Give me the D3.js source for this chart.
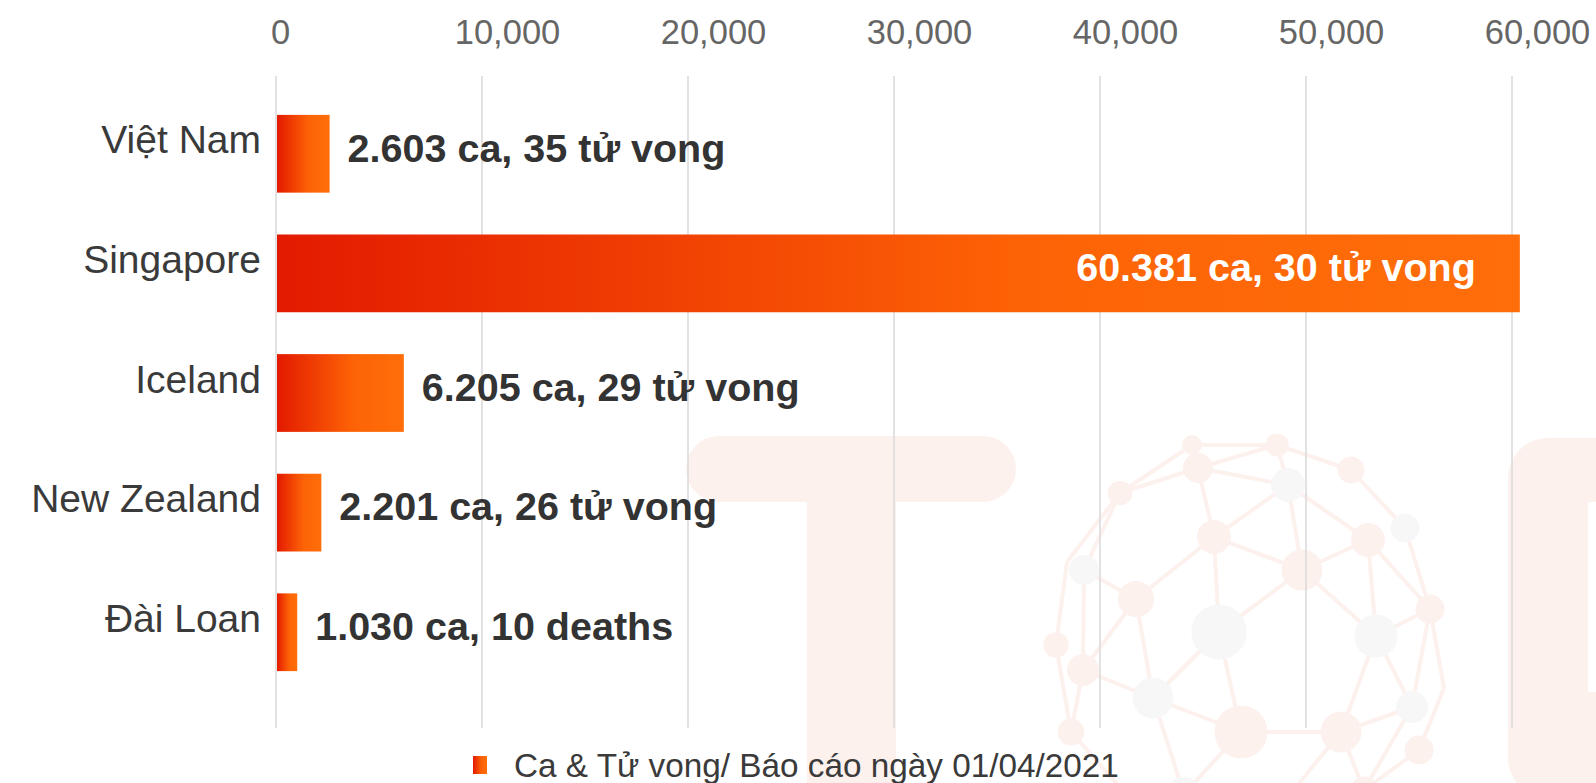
<!DOCTYPE html>
<html>
<head>
<meta charset="utf-8">
<script src="https://cdn.jsdelivr.net/npm/d3@7"></script>
<style>
  body { margin: 0; background: #fff; }
  svg { display: block; font-family: "Liberation Sans", Arial, sans-serif; }
</style>
</head>
<body>
<script>
var width = 1596;
var height = 783;

// du lieu
var countries = ["Việt Nam", "Singapore", "Iceland", "New Zealand", "Đài Loan"];
var cases = [2603, 60381, 6205, 2201, 1030];
var labels = ["2.603 ca, 35 tử vong", "60.381 ca, 30 tử vong", "6.205 ca, 29 tử vong", "2.201 ca, 26 tử vong", "1.030 ca, 10 deaths"];
var ticks = [0, 10000, 20000, 30000, 40000, 50000, 60000];
var legendText = "Ca & Tử vong/ Báo cáo ngày 01/04/2021";

var svg = d3.select("body").append("svg")
  .attr("width", width)
  .attr("height", height);

var defs = svg.append("defs");
var grad = defs.append("linearGradient").attr("id", "barGrad");
grad.append("stop").attr("offset", "0%").attr("stop-color", "#e31a00");
grad.append("stop").attr("offset", "60%").attr("stop-color", "#fd6306");
grad.append("stop").attr("offset", "100%").attr("stop-color", "#ff6e0a");

// watermark (logo mo phia sau)
var wm = svg.append("g").attr("class", "watermark");
var wmPink = "#fdf1ee";
var wmGrey = "#f7f7f7";
wm.append("rect").attr("x", 686).attr("y", 436).attr("width", 330).attr("height", 66).attr("rx", 33).attr("fill", wmPink);
wm.append("rect").attr("x", 807).attr("y", 480).attr("width", 89).attr("height", 310).attr("fill", wmPink);
wm.append("rect").attr("x", 1508).attr("y", 438).attr("width", 140).attr("height", 360).attr("rx", 40).attr("fill", wmPink);
wm.append("rect").attr("x", 1588).attr("y", 502).attr("width", 20).attr("height", 190).attr("fill", "#fff");

var nodes = [
  [1192, 445, 9, 0], [1277, 445, 10.6, 0], [1198, 468, 14, 0], [1120, 493, 11.3, 0],
  [1288, 485, 16, 1], [1351, 470, 12.4, 0], [1405, 528, 13.5, 1], [1214, 537, 16, 0],
  [1302, 570, 19.5, 0], [1368, 540, 16, 0], [1084, 570, 14, 1], [1136, 599, 17, 0],
  [1219, 632, 26.6, 1], [1376, 636, 20.6, 1], [1430, 609, 13.5, 0], [1056, 645, 11.7, 0],
  [1083, 670, 15, 0], [1153, 698, 19.5, 1], [1241, 732, 25.5, 0], [1341, 732, 19.5, 0],
  [1412, 707, 15, 1], [1071, 732, 12.4, 0], [1419, 750, 13.5, 0], [1184, 794, 16, 1],
  [1283, 803, 14, 0], [1364, 790, 12.4, 0], [1134, 803, 10.6, 0],
  [1067, 562, 0, 0], [1444, 688, 0, 0]
];
var edges = [
  [0, 1], [0, 3], [0, 2], [2, 1], [1, 4], [2, 4], [1, 5], [2, 7], [3, 2], [3, 10],
  [4, 7], [4, 8], [4, 9], [5, 6], [6, 14], [7, 8], [7, 11], [7, 12], [8, 9], [8, 12],
  [8, 13], [9, 13], [9, 14], [10, 11], [10, 16], [11, 16], [11, 17], [12, 17], [12, 18],
  [13, 14], [13, 19], [13, 20], [14, 20], [14, 28], [28, 22], [15, 27], [27, 3],
  [15, 21], [16, 17], [16, 21], [17, 18], [17, 23], [18, 19], [18, 23], [19, 20],
  [19, 24], [19, 25], [20, 25], [22, 25], [21, 26], [23, 24], [23, 26]
];
wm.selectAll("line.wm").data(edges).enter().append("line")
  .attr("x1", function(e){ return nodes[e[0]][0]; })
  .attr("y1", function(e){ return nodes[e[0]][1]; })
  .attr("x2", function(e){ return nodes[e[1]][0]; })
  .attr("y2", function(e){ return nodes[e[1]][1]; })
  .attr("stroke", wmPink)
  .attr("stroke-width", 4);
wm.selectAll("circle").data(nodes.filter(function(n){ return n[2] > 0; })).enter().append("circle")
  .attr("cx", function(n){ return n[0]; })
  .attr("cy", function(n){ return n[1]; })
  .attr("r", function(n){ return n[2] + 1; })
  .attr("fill", function(n){ return n[3] ? wmGrey : wmPink; });

// scales
var x = d3.scaleLinear()
  .domain([0, 60000])
  .range([276, 1512]);

var y = d3.scaleBand()
  .domain(countries)
  .range([79, 707])
  .paddingInner(0.35)
  .paddingOuter(0.3);

// gridlines
svg.append("g").selectAll("line.grid").data(ticks).enter().append("line")
  .attr("x1", function(d){ return x(d); })
  .attr("x2", function(d){ return x(d); })
  .attr("y1", 76)
  .attr("y2", 728)
  .attr("stroke", "#d9d9d9")
  .attr("stroke-width", 1.5);

// truc tren
var axis = svg.append("g")
  .attr("transform", "translate(0,44)")
  .call(d3.axisTop(x).tickValues(ticks).tickFormat(d3.format(",")).tickSize(0).tickPadding(0));
axis.select(".domain").remove();
axis.selectAll("text")
  .attr("fill", "#666")
  .attr("dx", function(d){ return d === 0 ? 4 : 25; })
  .style("font-size", "34.5px")
  .style("font-family", "\"Liberation Sans\", Arial, sans-serif");

// nhan quoc gia
svg.append("g").selectAll("text").data(countries).enter().append("text")
  .attr("x", 261)
  .attr("y", function(d){ return y(d) + y.bandwidth() / 2 - 14; })
  .attr("dy", "0.35em")
  .attr("text-anchor", "end")
  .attr("fill", "#3a3a3a")
  .style("font-size", "39px")
  .text(function(d){ return d; });

// cot
svg.append("g").selectAll("rect").data(countries).enter().append("rect")
  .attr("x", x(0) + 1)
  .attr("y", function(d){ return y(d); })
  .attr("width", function(d, i){ return x(cases[i]) - x(0) - 1; })
  .attr("height", y.bandwidth())
  .attr("fill", "url(#barGrad)");

// nhan gia tri
svg.append("g").selectAll("text").data(countries).enter().append("text")
  .attr("x", function(d, i){ return cases[i] > 30000 ? x(cases[i]) - 44 : x(cases[i]) + 18; })
  .attr("y", function(d, i){ return y(d) + y.bandwidth() / 2 - 6; })
  .attr("dy", "0.35em")
  .attr("text-anchor", function(d, i){ return cases[i] > 30000 ? "end" : "start"; })
  .attr("fill", function(d, i){ return cases[i] > 30000 ? "#fff" : "#333"; })
  .style("font-size", "39.5px")
  .style("font-weight", "bold")
  .text(function(d, i){ return labels[i]; });

// chu thich
var legend = svg.append("g").attr("transform", "translate(473,756)");
legend.append("rect")
  .attr("width", 14)
  .attr("height", 18)
  .attr("fill", "url(#barGrad)");
legend.append("text")
  .attr("x", 41)
  .attr("y", 9)
  .attr("dy", "0.35em")
  .attr("fill", "#3a3a3a")
  .style("font-size", "33.3px")
  .text(legendText);
</script>
</body>
</html>
